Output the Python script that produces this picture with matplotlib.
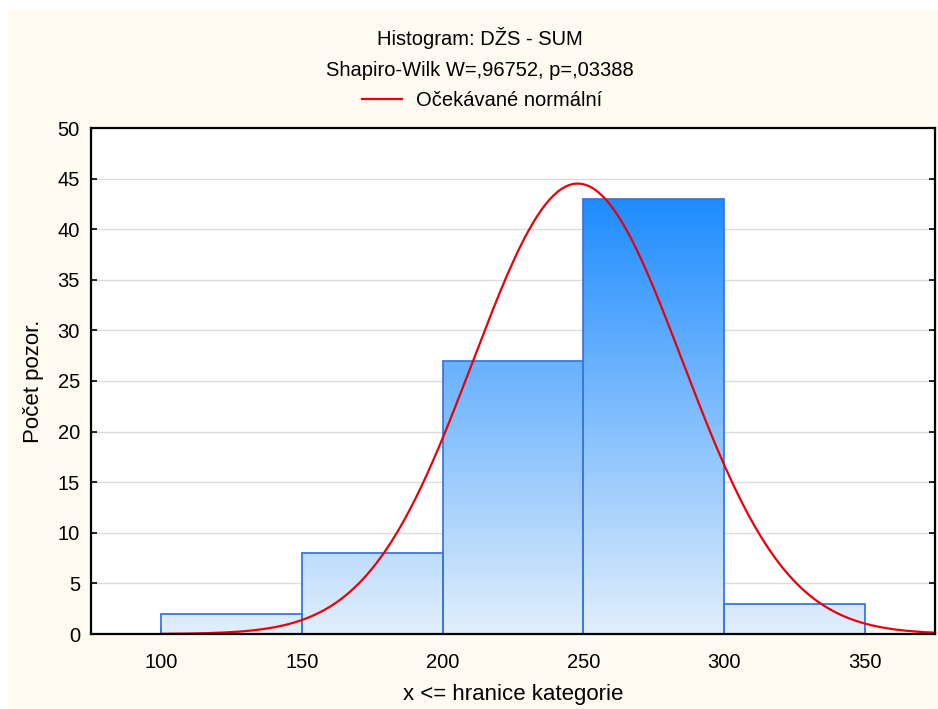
import numpy as np
import matplotlib
matplotlib.use('Agg')
import matplotlib.pyplot as plt
from matplotlib.colors import LinearSegmentedColormap
from matplotlib.patches import Rectangle

plt.rcParams['font.family'] = ['Liberation Sans', 'DejaVu Sans']

# data
bin_edges = [100, 150, 200, 250, 300, 350]
counts = [2, 8, 27, 43, 3]
fit_mean = 248.0   # odhad z obrázku
fit_sd = 37.2
n_obs = sum(counts)
bin_width = 50

xticks = [100, 150, 200, 250, 300, 350]
yticks = [0, 5, 10, 15, 20, 25, 30, 35, 40, 45, 50]

fig = plt.figure(figsize=(9.38, 7.09), dpi=100, facecolor='white')
# krémové pozadí (bílý proužek nahoře a vlevo)
fig.patches.append(Rectangle((8 / 938, 0), 1 - 8 / 938, 1 - 10 / 709,
                             transform=fig.transFigure, facecolor='#FFFBF0',
                             edgecolor='none', zorder=-10))

ax = fig.add_axes([91 / 938, 1 - 634 / 709, (935 - 91) / 938, (634 - 128) / 709])
ax.set_facecolor('white')

for y in yticks[1:-1]:
    ax.axhline(y, color='#DCDCDC', lw=1, zorder=0)

cmap = LinearSegmentedColormap.from_list('grad', ['#E2EFFC', '#1E8CFF'])
grad = np.linspace(0, 1, 256).reshape(-1, 1)
top = max(counts)
for i, c in enumerate(counts):
    x0, x1 = bin_edges[i], bin_edges[i + 1]
    rect = Rectangle((x0, 0), x1 - x0, c, facecolor='none',
                     edgecolor='#3A78DC', lw=1.3, zorder=3)
    ax.add_patch(rect)
    im = ax.imshow(grad, cmap=cmap, origin='lower', aspect='auto',
                   extent=(75, 375, 0, top), zorder=2, interpolation='bilinear')
    im.set_clip_path(rect)
ax.set_xlim(75, 375)
ax.set_ylim(0, 50)

xs = np.linspace(100, 375, 400)
ys = n_obs * bin_width / (fit_sd * np.sqrt(2 * np.pi)) * np.exp(-0.5 * ((xs - fit_mean) / fit_sd) ** 2)
line, = ax.plot(xs, ys, color='#E8000B', lw=1.6, zorder=4, clip_on=False)

ax.set_xticks(xticks)
ax.set_yticks(yticks)
ax.tick_params(direction='in', length=4, width=1.2, labelsize=14.5,
               top=False, right=True)
ax.tick_params(axis='x', pad=14)
ax.tick_params(axis='y', pad=8)
for s in ax.spines.values():
    s.set_linewidth(1.6)
    s.set_color('black')
    s.set_zorder(5)

ax.set_xlabel('x <= hranice kategorie', fontsize=16, labelpad=8)
ax.set_ylabel('Počet pozor.', fontsize=16, labelpad=10)

fig.text(480 / 938, 1 - 38 / 709, 'Histogram: DŽS - SUM', ha='center', va='center', fontsize=14.5)
fig.text(480 / 938, 1 - 71 / 709, 'Shapiro-Wilk W=,96752, p=,03388', ha='center', va='center', fontsize=14.5)
fig.legend([line], ['Očekávané normální'], loc='center', bbox_to_anchor=(482 / 938, 1 - 101 / 709),
           frameon=False, fontsize=14.5, handlelength=2.0, handletextpad=0.7)

fig.savefig('out.png', dpi=100, facecolor=fig.get_facecolor())
